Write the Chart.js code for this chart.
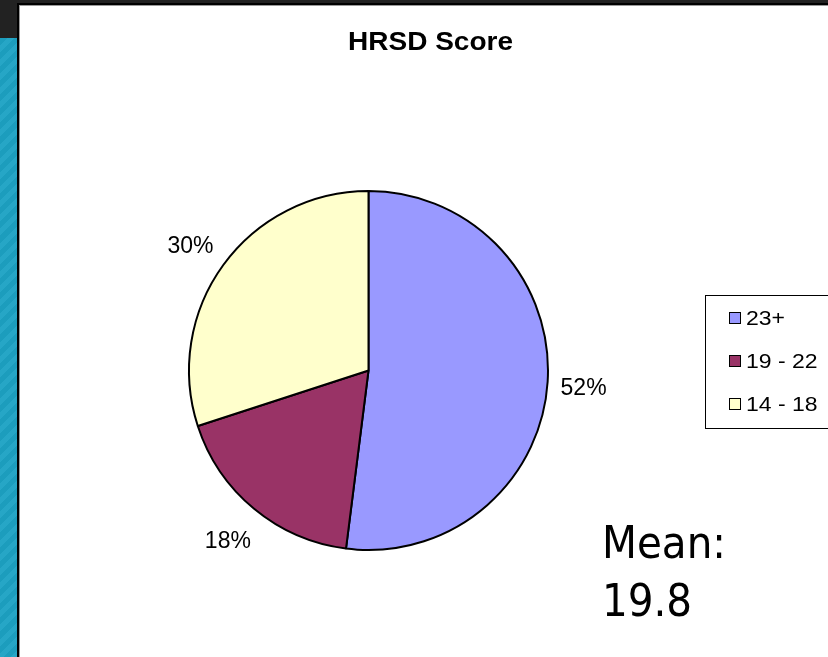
<!DOCTYPE html>
<html>
<head>
<meta charset="utf-8">
<script src="https://cdn.jsdelivr.net/npm/chart.js@4.4.0/dist/chart.umd.min.js"></script>
<style>
  html, body { margin: 0; padding: 0; width: 828px; height: 657px; overflow: hidden; }
  body { background: #222; position: relative; }
  #side {
    position: absolute; left: 0; top: 38px; width: 17px; height: 619px;
    background: repeating-linear-gradient(135deg, #1c9dbd 0 5px, #26a6c6 5px 10px);
  }
  #slide {
    position: absolute; left: 17px; top: 3px; width: 900px; height: 700px;
    background: #fff; border-left: 2px solid #000; border-top: 2px solid #000;
    box-shadow: inset 1px 1px 0 #9a9a9a;
  }
  #mean {
    position: absolute; left: 602px; top: 514px;
    font: 45px "DejaVu Sans Condensed", "DejaVu Sans", sans-serif;
    line-height: 58px; color: #000;
  }
  canvas { position: absolute; left: 0; top: 0; }
</style>
</head>
<body>
<div id="side"></div>
<div id="slide"></div>
<canvas id="hrsd" width="880" height="657"></canvas>
<div id="mean">Mean:<br>19.8</div>
<script>
// data
var categories = ['23+', '19 - 22', '14 - 18'];
var shares = [52, 18, 30];
var sliceColors = ['#9999FF', '#993366', '#FFFFCC'];
var chartTitle = 'HRSD Score';

// labels, title and boxed legend
var decorations = {
  id: 'decorations',
  afterDatasetsDraw: function (chart) {
    var ctx = chart.ctx;
    var meta = chart.getDatasetMeta(0);
    var ds = chart.data.datasets[0];
    ctx.save();
    ctx.fillStyle = '#000';

    // percent labels
    ctx.font = '23px "Liberation Sans", Arial, sans-serif';
    ctx.textAlign = 'center';
    ctx.textBaseline = 'middle';
    meta.data.forEach(function (arc, i) {
      var p = arc.getProps(['x', 'y', 'startAngle', 'endAngle', 'outerRadius'], true);
      var mid = (p.startAngle + p.endAngle) / 2;
      var r = p.outerRadius + 38;
      ctx.fillText(ds.data[i] + '%', p.x + Math.cos(mid) * r - 2, p.y + Math.sin(mid) * r + 4);
    });

    // title
    ctx.save();
    ctx.font = 'bold 25px "Liberation Sans", Arial, sans-serif';
    ctx.translate(430.5, 43);
    ctx.scale(1.12, 1);
    ctx.fillText(chartTitle, 0, 0);
    ctx.restore();

    // legend box
    ctx.strokeStyle = '#000';
    ctx.lineWidth = 1;
    ctx.strokeRect(705.5, 295.5, 160, 133);
    chart.data.labels.forEach(function (lab, i) {
      var yc = 318 + i * 43;
      ctx.fillStyle = ds.backgroundColor[i];
      ctx.fillRect(729.5, yc - 5.5, 11, 11);
      ctx.strokeRect(729.5, yc - 5.5, 11, 11);
      ctx.save();
      ctx.fillStyle = '#000';
      ctx.font = '20px "Liberation Sans", Arial, sans-serif';
      ctx.textAlign = 'left';
      ctx.translate(746, yc + 1);
      ctx.scale(1.15, 1);
      ctx.fillText(lab, 0, 0);
      ctx.restore();
    });
    ctx.restore();
  }
};

var ctx = document.getElementById('hrsd').getContext('2d');
var myChart = new Chart(ctx, {
  type: 'pie',
  data: {
    labels: categories,
    datasets: [{
      data: shares,
      backgroundColor: sliceColors,
      borderColor: '#000',
      borderWidth: 2
    }]
  },
  options: {
    responsive: false,
    animation: false,
    layout: { padding: { left: 188, top: 190, right: 331, bottom: 106 } },
    plugins: {
      legend: { display: false },
      tooltip: { enabled: false },
      title: { display: false }
    }
  },
  plugins: [decorations]
});
</script>
</body>
</html>
